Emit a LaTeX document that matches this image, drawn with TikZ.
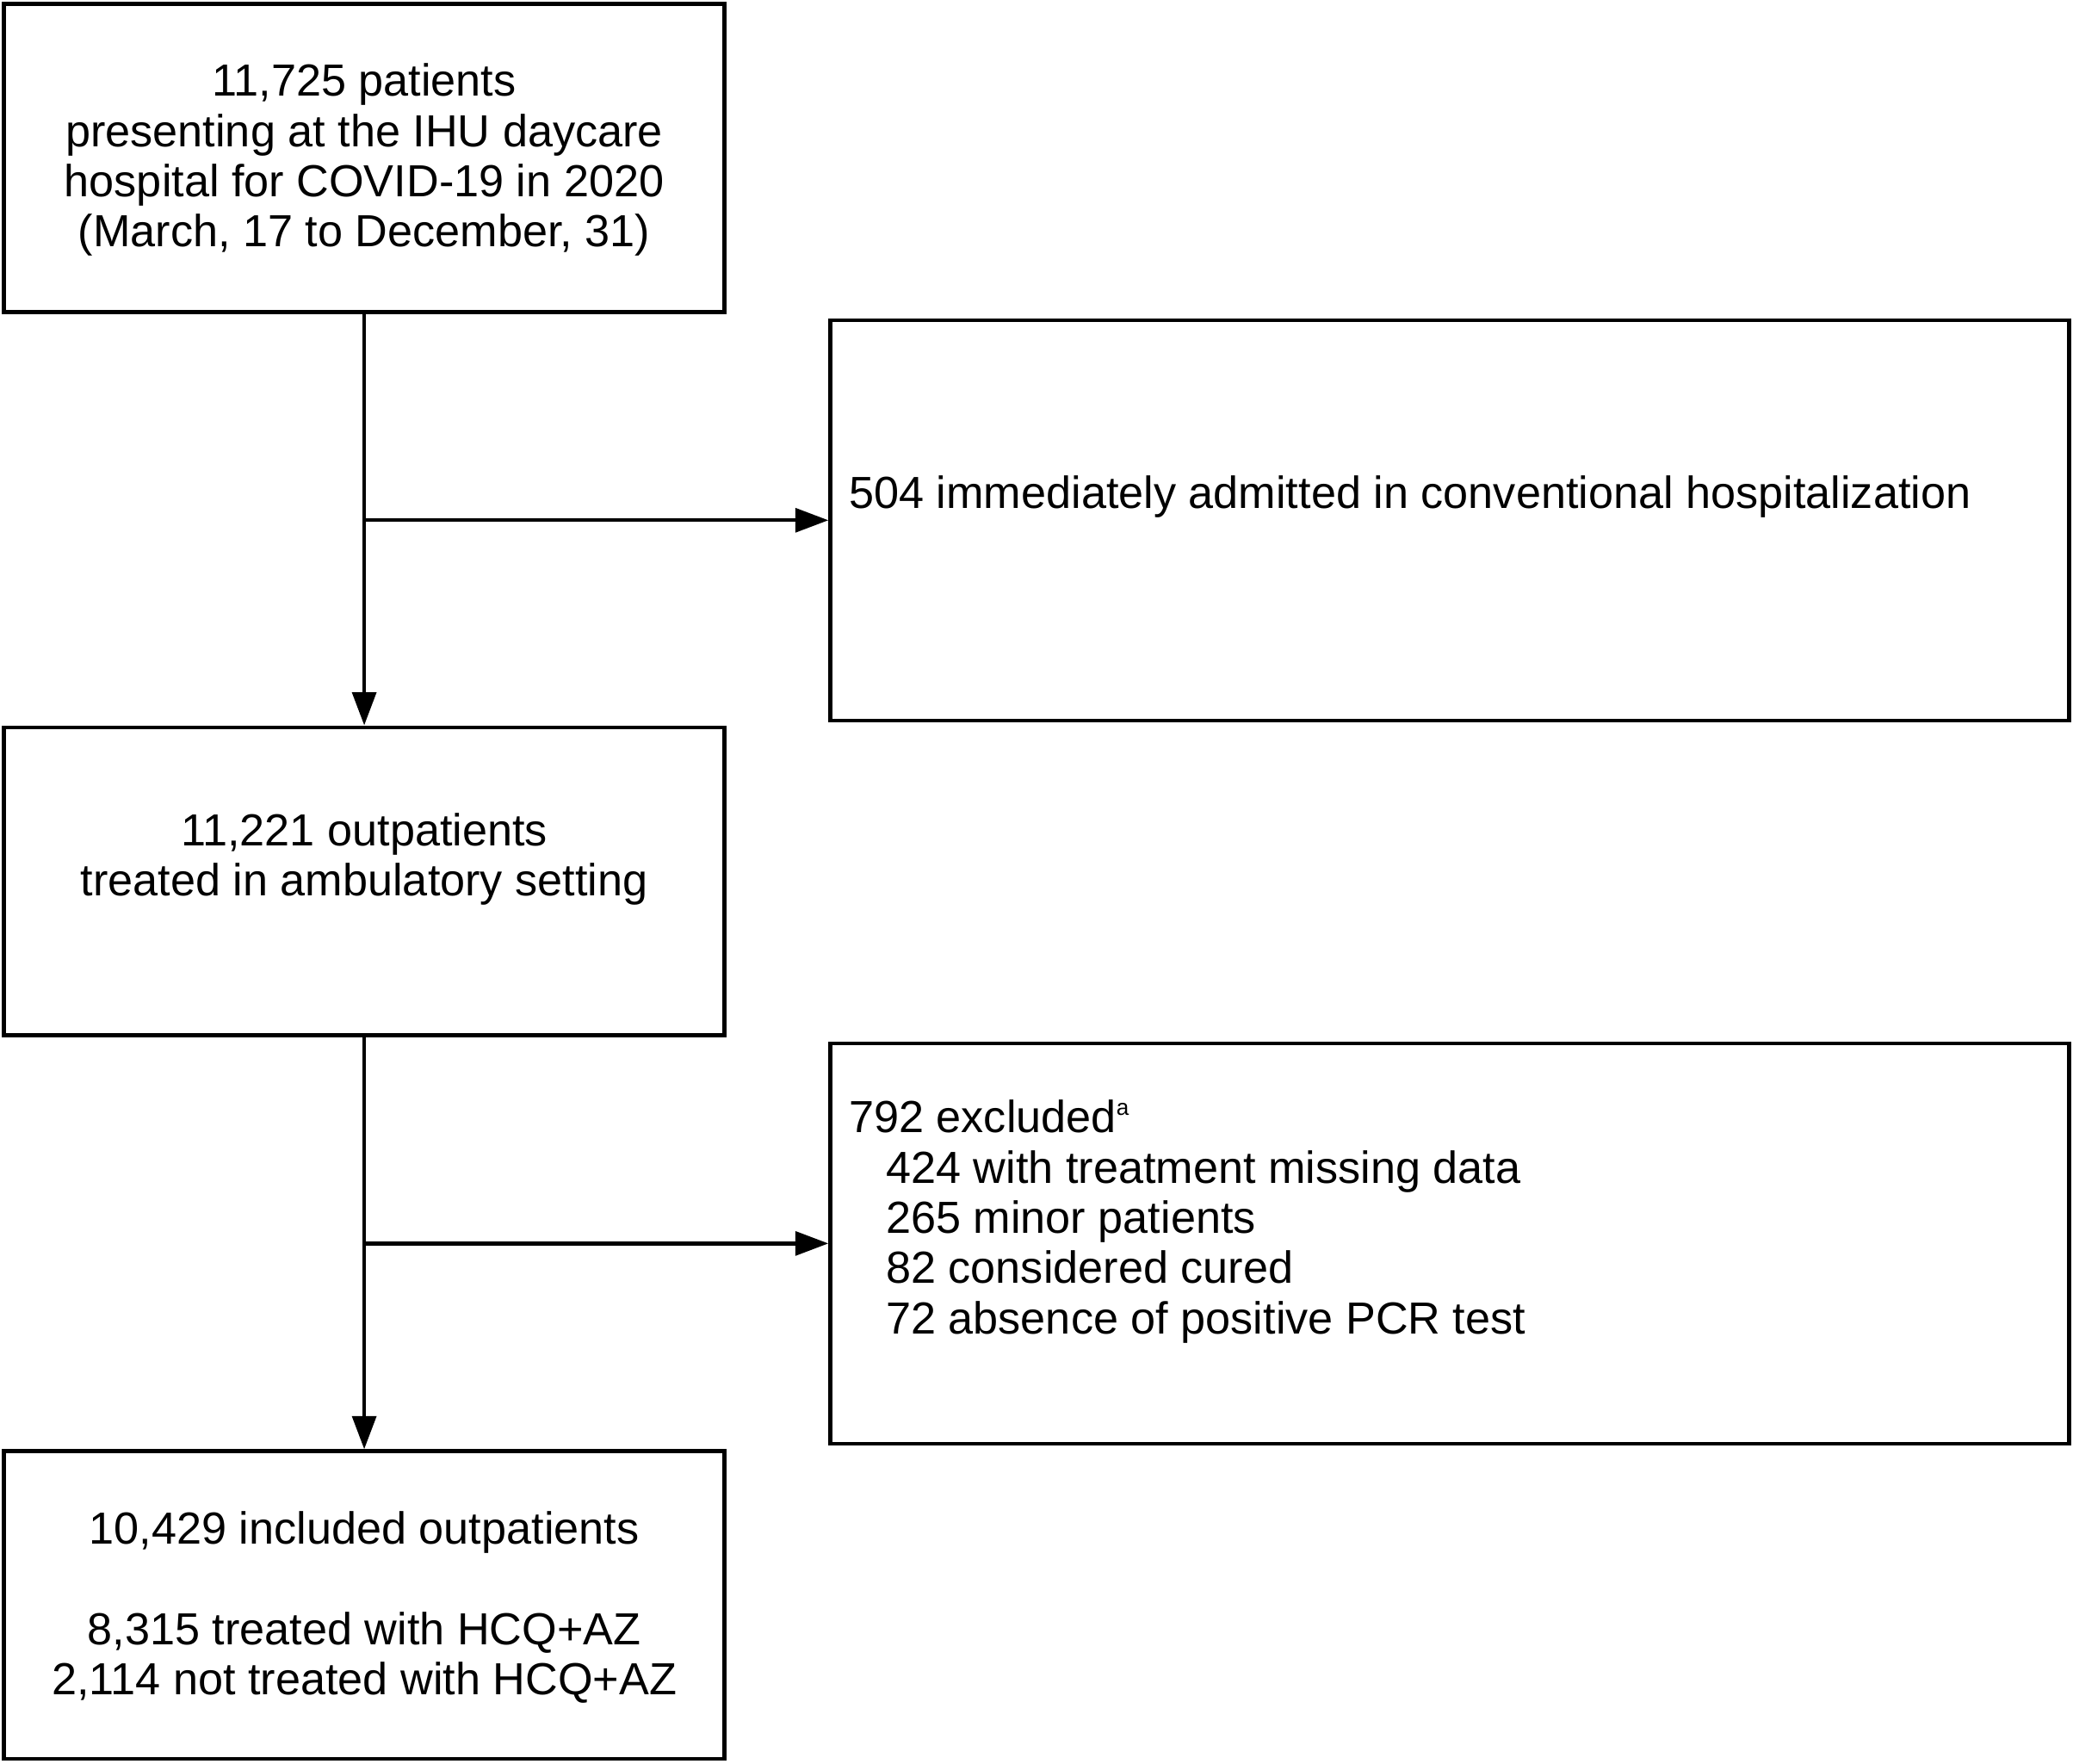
\documentclass[tikz,border=0pt]{standalone}
\usepackage{fontspec}
\setmainfont{Liberation Sans}
\usetikzlibrary{arrows.meta}

\tikzset{
  box/.style={draw, line width=2.8pt, minimum width=545pt, minimum height=233pt, inner sep=0pt},
  widebox/.style={box, minimum width=937pt, minimum height=303pt},
  txt/.style={font=\fontsize{34}{38}\selectfont, inner sep=0pt},
  arr/.style={line width=2.8pt, -{Triangle[length=25pt,width=18pt]}}
}
\newcommand{\supa}{{\fontsize{17}{17}\selectfont\raisebox{13pt}{a}}}

\begin{document}
\begin{tikzpicture}[x=1pt,y=-1pt]
    \useasboundingbox (0,0) rectangle (1568,1333.6);
    % boxes
    \node[box] (patients) at (275.5,119.5) {};
    \node[widebox] (admitted) at (1096.5,393.5) {};
    \node[box] (outpat) at (275.5,666.5) {};
    \node[widebox] (excluded) at (1096.5,940.5) {};
    \node[box] (included) at (275.5,1214) {};
    % box texts
    \node[txt, align=center] (patientstxt) at (275.5,121) {11,725 patients\\presenting at the IHU daycare\\hospital for COVID-19 in 2020\\(March, 17 to December, 31)};
    \node[txt, anchor=west] (admittedtxt) at (642,376) {504 immediately admitted in conventional hospitalization};
    \node[txt, align=center] (outpattxt) at (275.5,650) {11,221 outpatients\\treated in ambulatory setting};
    \node[txt, align=left, anchor=west] (excludedtxt) at (642,924) {792 excluded\supa\\\hspace*{28pt}424 with treatment missing data\\\hspace*{28pt}265 minor patients\\\hspace*{28pt}82 considered cured\\\hspace*{28pt}72 absence of positive PCR test};
    \node[txt, align=center] (includedtxt) at (275.5,1216) {10,429 included outpatients\\[38pt]8,315 treated with HCQ+AZ\\2,114 not treated with HCQ+AZ};
    % junctions on the main line
    \coordinate (j1) at (patients.south |- admitted.west);
    \coordinate (j2) at (outpat.south |- excluded.west);
    % connectors
    \draw[arr] (patients.south) -- (outpat.north);
    \draw[arr] (j1) -- (admitted.west);
    \draw[arr] (outpat.south) -- (included.north);
    \draw[arr] (j2) -- (excluded.west);
\end{tikzpicture}
\end{document}
